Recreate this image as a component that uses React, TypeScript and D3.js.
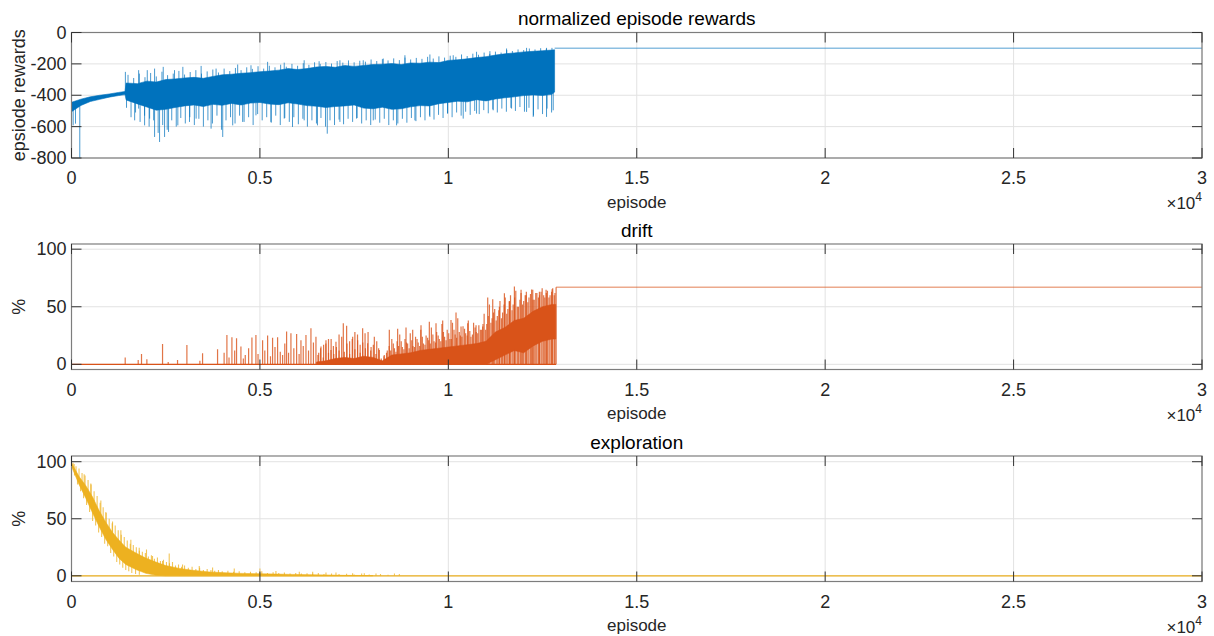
import React, { useEffect, useRef } from 'react';
import * as d3 from 'd3';

// ---- axes / ticks ----
const X_MAX = 30000;
const xTicks = [0, 5000, 10000, 15000, 20000, 25000, 30000];
const xTickLabels = ['0', '0.5', '1', '1.5', '2', '2.5', '3'];

// ---- normalized episode rewards ----
const rewardBandEp = [
  0, 250, 500, 750, 1000, 1250, 1420, 1450, 1750, 2000,
  2250, 2500, 2750, 3000, 3250, 3500, 3750, 4000, 4250, 4500,
  4750, 5000, 5250, 5500, 5750, 6000, 6250, 6500, 6750, 7000,
  7250, 7500, 7750, 8000, 8250, 8500, 8750, 9000, 9250, 9500,
  9750, 10000, 10250, 10500, 10750, 11000, 11250, 11500, 11750, 12000,
  12250, 12500, 12750, 12820,
];
const rewardBandHigh = [
  -445, -425, -410, -400, -392, -382, -376, -322, -326, -310,
  -316, -300, -296, -290, -286, -292, -280, -270, -266, -260,
  -256, -250, -246, -240, -230, -236, -230, -220, -216, -222,
  -210, -216, -210, -204, -202, -198, -204, -194, -196, -189,
  -192, -178, -174, -168, -160, -154, -144, -136, -130, -124,
  -120, -116, -112, -110,
];
const rewardBandLow = [
  -505, -465, -440, -426, -412, -402, -396, -430, -455, -475,
  -495, -490, -478, -468, -462, -472, -458, -464, -452, -462,
  -450, -446, -456, -460, -448, -456, -466, -470, -478, -472,
  -468, -462, -482, -486, -476, -490, -486, -474, -466, -468,
  -454, -446, -438, -442, -428, -436, -424, -416, -410, -402,
  -398, -402, -394, -380,
];
// prominent excursions
const rewardSpikes: [number, number][] = [
  [44, -592], [106, -581], [220, -800], [1676, -560], [1782, -485], [1940, -592],
  [2073, -549], [2205, -666], [2337, -698], [2470, -666], [2575, -634], [2822, -592],
  [3131, -570], [3307, -549], [3704, -613], [4013, -666], [4278, -592], [4542, -570],
  [4895, -528], [5292, -570], [5645, -549], [5865, -602], [6174, -560], [6527, -592],
  [6787, -645], [7123, -570], [7565, -549], [8008, -560], [8627, -592], [9113, -560],
  [9511, -538], [9980, -517], [10395, -549], [10749, -517], [11191, -496], [11678, -485],
  [12076, -506], [12253, -538], [12606, -538], [12783, -496],
  [1430, -251], [1782, -240], [2011, -240], [2205, -230], [2434, -219], [2734, -240],
  [2955, -219], [3440, -213], [3837, -230], [4410, -204], [4763, -209], [5204, -187],
  [5645, -192], [6174, -177], [6571, -183], [7123, -177], [7742, -177], [8273, -166],
  [8848, -145], [9511, -140], [10130, -145], [10749, -123], [11103, -119], [11545, -102],
  [12076, -98], [12606, -98],
];
// jagged top edge
const rewardUpSpikes: [number, number][] = [
  [1500, -270], [1650, -290], [1800, -262], [1950, -285], [2100, -258], [2250, -280],
  [2400, -250], [2550, -272], [2700, -262], [2850, -245], [3000, -268], [3150, -252],
  [3300, -240], [3450, -262], [3600, -248], [3750, -236], [3900, -255], [4050, -230],
  [4200, -246], [4350, -226], [4500, -240], [4650, -222], [4800, -232], [4950, -215],
  [5100, -230], [5250, -212], [5400, -222], [5550, -205], [5700, -218], [5850, -200],
  [6000, -212], [6150, -196], [6300, -206], [6450, -190], [6600, -200], [6750, -188],
  [6900, -198], [7050, -182], [7200, -192], [7350, -178], [7500, -190], [7650, -180],
  [7800, -186], [7950, -172], [8100, -182], [8250, -170], [8400, -178], [8550, -165],
  [8700, -176], [8850, -160], [9000, -172], [9150, -162], [9300, -168], [9450, -155],
  [9600, -166], [9750, -152], [9900, -160], [10050, -148], [10200, -155], [10350, -140],
  [10500, -150], [10650, -135], [10800, -142], [10950, -128], [11100, -136], [11250, -122],
  [11400, -128], [11550, -112], [11700, -118], [11850, -108], [12000, -112], [12150, -102],
  [12300, -108], [12450, -100], [12600, -104], [12750, -98],
];
// streaky lower edge
const rewardDownSpikes: [number, number][] = [
  [1460, -480], [1580, -540], [1700, -510], [1820, -570], [1940, -530], [2060, -600],
  [2180, -560], [2300, -640], [2420, -590], [2540, -620], [2660, -560], [2780, -600],
  [2900, -545], [3020, -580], [3140, -540], [3260, -590], [3380, -550], [3500, -600],
  [3620, -560], [3740, -580], [3860, -530], [3980, -620], [4100, -560], [4220, -540],
  [4340, -580], [4460, -530], [4580, -570], [4700, -540], [4820, -590], [4940, -520],
  [5060, -560], [5180, -540], [5300, -575], [5420, -530], [5540, -590], [5660, -545],
  [5780, -570], [5900, -540], [6020, -585], [6140, -550], [6260, -600], [6380, -560],
  [6500, -580], [6620, -545], [6740, -600], [6860, -560], [6980, -590], [7100, -555],
  [7220, -585], [7340, -550], [7460, -570], [7580, -545], [7700, -580], [7820, -560],
  [7940, -590], [8060, -555], [8180, -575], [8300, -550], [8420, -590], [8540, -560],
  [8660, -580], [8780, -550], [8900, -575], [9020, -545], [9140, -565], [9260, -540],
  [9380, -560], [9500, -530], [9620, -555], [9740, -525], [9860, -545], [9980, -515],
  [10100, -540], [10220, -510], [10340, -530], [10460, -505], [10580, -525], [10700, -500],
  [10820, -520], [10940, -495], [11060, -515], [11180, -490], [11300, -510], [11420, -485],
  [11540, -505], [11660, -480], [11780, -500], [11900, -475], [12020, -505], [12140, -480],
  [12260, -530], [12380, -490], [12500, -520], [12620, -485], [12740, -510],
];
const rewardFlatEp = [12820, 30000];
const rewardFlatValue = -100;

// ---- drift ----
const driftBandEp = [
  6500, 6750, 7000, 7250, 7500, 7750, 8000, 8250, 8500, 8750,
  9000, 9250, 9500, 9750, 10000, 10250, 10500, 10750, 11000, 11250,
  11500, 11750, 12000, 12250, 12500, 12750, 12850,
];
const driftBandHigh = [
  2, 3, 5, 6, 5, 7, 6, 3, 8, 9,
  10, 12, 13, 14, 15, 16, 17, 18, 20, 28,
  32, 38, 40, 46, 50, 52, 52,
];
const driftBandLow = [
  0, 0, 0, 0, 0, 0, 0, 0, 0, 0,
  0, 0, 0, 0, 0, 0, 0, 0, 0, 4,
  8, 12, 10, 16, 20, 22, 22,
];
const driftSpikes: [number, number][] = [
  [1425, 6], [1770, 3.8], [1858, 9], [2000, 4.4], [2416, 17.7], [2566, 2], [2814, 3.8],
  [3062, 16.8], [3407, 3], [3478, 9.6], [3876, 13], [4124, 25.5], [4257, 23.5], [4380, 22.6],
  [4496, 15.4], [4611, 8], [4788, 23.2], [4894, 25.5], [5071, 21], [5204, 25], [5336, 23],
  [5469, 23.5], [5602, 8], [5708, 28.4], [5823, 27], [5974, 26.4], [6089, 21], [6222, 25.5],
  [6354, 31.3], [6487, 24], [6620, 15.4], [6753, 21], [6885, 12.5], [7018, 19.7], [7213, 35.7],
  [7301, 33.4], [7461, 24], [7593, 21], [7726, 31.3], [7859, 18.3], [8036, 24], [8169, 12.5],
  [8434, 30], [8655, 31], [8877, 32], [9054, 30], [9275, 34], [9496, 37], [9673, 35.7],
  [9850, 38], [10071, 38.6], [10204, 45], [10337, 32.8], [10514, 35.7], [10735, 34],
  [10912, 32.8], [11045, 58], [11178, 56.5], [11355, 50], [11488, 61.8], [11620, 54.5],
  [11753, 67.5], [11930, 64.7], [12063, 60], [12240, 64.7], [12417, 63], [12594, 64.7],
  [12753, 65.3], [12860, 67],
  [4050, 10], [4180, 6], [4330, 12], [4560, 5], [4700, 14], [4950, 9], [5130, 12],
  [5280, 7], [5400, 15], [5540, 11], [5660, 18], [5760, 10], [5900, 14], [6040, 9],
  [6150, 16], [6290, 12], [6420, 19], [6560, 10], [6690, 17], [6820, 22], [6950, 16],
  [7100, 26], [7380, 20], [7520, 28], [7660, 17], [7790, 27], [7950, 15], [8100, 20],
  [8300, 8], [8380, 12],
];
const driftDenseSpikes: [number, number][] = [
  [6540, 8], [6610, 14], [6680, 6], [6750, 18], [6820, 10], [6890, 22], [6960, 9],
  [7030, 15], [7100, 12], [7170, 24], [7240, 11], [7310, 18], [7380, 9], [7450, 22],
  [7520, 13], [7590, 26], [7660, 10], [7730, 19], [7800, 14], [7870, 28], [7940, 12],
  [8010, 17], [8080, 9], [8150, 14], [8220, 5], [8290, 7], [8360, 10], [8430, 16],
  [8500, 22], [8570, 14], [8640, 20], [8710, 26], [8780, 15], [8850, 22], [8920, 18],
  [8990, 27], [9060, 16], [9130, 24], [9200, 19], [9270, 30], [9340, 18], [9410, 25],
  [9480, 21], [9550, 32], [9620, 20], [9690, 28], [9760, 22], [9830, 35], [9900, 24],
  [9970, 30], [10040, 22], [10110, 36], [10180, 26], [10250, 40], [10320, 25], [10390, 33],
  [10460, 27], [10530, 38], [10600, 24], [10670, 36], [10740, 28], [10810, 34], [10880, 30],
  [10950, 44], [11020, 35], [11090, 52], [11160, 40], [11230, 48], [11300, 42], [11370, 55],
  [11440, 45], [11510, 58], [11580, 48], [11650, 60], [11720, 52], [11790, 64], [11860, 50],
  [11930, 62], [12000, 55], [12070, 63], [12140, 58], [12210, 65], [12280, 56], [12350, 62],
  [12420, 60], [12490, 66], [12560, 58], [12630, 64], [12700, 60], [12770, 66], [12830, 62],
  [8470, 12], [8540, 18], [8610, 11], [8680, 16], [8750, 20], [8820, 13], [8890, 19],
  [8960, 14], [9030, 21], [9100, 15], [9170, 22], [9240, 16], [9310, 24], [9380, 17],
  [9450, 23], [9520, 18], [9590, 26], [9660, 19], [9730, 25], [9800, 20], [9870, 28],
  [9940, 21], [10010, 27], [10080, 22], [10150, 30], [10220, 23], [10290, 28], [10360, 24],
  [10430, 31], [10500, 25], [10570, 29], [10640, 26], [10710, 32], [10780, 27], [10850, 30],
  [10920, 35], [10990, 30], [11060, 42], [11130, 36], [11200, 45], [11270, 38], [11340, 47],
  [11410, 40], [11480, 52], [11550, 44], [11620, 55], [11690, 47], [11760, 58], [11830, 50],
  [11900, 56], [11970, 52], [12040, 60], [12110, 54], [12180, 61], [12250, 56], [12320, 62],
  [12390, 58], [12460, 63], [12530, 60], [12600, 62], [12670, 58], [12740, 63], [12810, 60],
];
const driftFlatEp = [12860, 30000];
const driftFlatValue = 67;

// ---- exploration ----
const explBandEp = [
  0, 200, 380, 560, 735, 910, 1090, 1270, 1440, 1710,
  1970, 2240, 2500, 2860, 3210, 3650, 4100, 4540, 4980, 5420,
  5870, 6310, 6750, 7200, 8000,
];
const explBandHigh = [
  99, 87, 79, 69, 57, 47, 38, 31, 25, 20,
  15.5, 12, 9, 6.5, 4.8, 3.4, 2.6, 2.1, 1.8, 1.5,
  1.2, 1.0, 0.7, 0.4, 0.2,
];
const explBandLow = [
  96, 80, 68, 55, 43, 32, 23, 15, 10, 5.5,
  2.2, 0.5, 0, 0, 0, 0, 0, 0, 0, 0,
  0, 0, 0, 0, 0,
];
const explSpikes: [number, number][] = [
  [70, 98], [336, 89], [513, 81], [779, 66], [912, 56], [1089, 47.5], [1310, 40],
  [1575, 31.7], [1797, 24.5], [1990, 23], [2150, 17.3], [2416, 13], [2593, 19.6],
  [2947, 10], [3390, 8.6], [3744, 7.2], [4319, 6.3], [5000, 6.3], [5425, 4.3],
  [6045, 3.5], [6400, 3.5], [6753, 2.9], [7018, 2.9], [7460, 2.3], [7770, 2.3],
  [8080, 2], [8570, 2],
  [40, 99], [120, 96], [200, 94], [280, 90], [360, 88], [440, 84], [520, 80], [600, 74],
  [680, 70], [760, 64], [840, 60], [920, 55], [1000, 50], [1080, 46], [1160, 44], [1240, 40],
  [1320, 36], [1400, 34], [1480, 31], [1560, 28], [1640, 27], [1720, 25], [1800, 22],
  [1880, 21], [1960, 20], [2040, 17], [2120, 18], [2200, 15], [2280, 16], [2360, 13],
  [2440, 14], [2520, 12], [2600, 11], [2680, 12], [2760, 9], [2840, 10], [2920, 8],
  [3000, 9], [3100, 7], [3200, 8], [3300, 6], [3400, 7], [3500, 5], [3600, 6], [3700, 5],
  [3800, 4.5], [3900, 5], [4000, 4], [4150, 4.5], [4300, 3.5], [4450, 4], [4600, 3],
  [4750, 3.5], [4900, 3], [5050, 4], [5200, 2.5], [5350, 3], [5500, 2.5], [5650, 2.8],
  [5800, 2], [5950, 2.5], [6100, 2], [6250, 2.2], [6400, 1.8], [6550, 2.5], [6700, 1.5],
  [6900, 2], [7100, 1.5], [7300, 1.8], [7500, 1.2], [7700, 2], [7900, 1.2], [8200, 1.5],
  [8400, 1], [8700, 1.5],
  [80, 88], [160, 80], [240, 74], [320, 68], [400, 62], [480, 56], [560, 48], [640, 44],
  [720, 38], [800, 34], [880, 28], [960, 26], [1040, 20], [1120, 17], [1200, 12],
  [1280, 10], [1360, 7], [1440, 5], [1520, 4], [1600, 2.5], [1700, 1.5], [1800, 1],
];
const explFlatEp = [0, 30000];
const explFlatValue = 0;

// ---- layout ----
const LEFT = 71.5;
const RIGHT = 1202;
const PH = 125.5;
const TOPS = [32.5, 244, 456];
const FONT = 'Liberation Sans, Arial, Helvetica, sans-serif';
const TXT = '#262626';

const panels = [
  {
    key: 'rew', title: 'normalized episode rewards', ylabel: 'epsiode rewards', color: '#0072BD',
    yDomain: [-800, 0], yTicks: [-800, -600, -400, -200, 0],
    bandEp: rewardBandEp, bandHigh: rewardBandHigh, bandLow: rewardBandLow,
    spikes: [...rewardUpSpikes, ...rewardDownSpikes, ...rewardSpikes], spikeFromMid: true,
    spikeWidth: 1, spikeOpacity: 0.72,
    flatEp: rewardFlatEp, flatValue: rewardFlatValue, flatOpacity: 0.45, flatWidth: 1.6,
    baselineTo: null as number | null,
  },
  {
    key: 'drift', title: 'drift', ylabel: '%', color: '#D95319',
    yDomain: [-4.5, 104.5], yTicks: [0, 50, 100],
    bandEp: driftBandEp, bandHigh: driftBandHigh, bandLow: driftBandLow,
    spikes: [...driftDenseSpikes, ...driftSpikes], spikeFromMid: false,
    spikeWidth: 1.2, spikeOpacity: 0.8,
    flatEp: driftFlatEp, flatValue: driftFlatValue, flatOpacity: 0.5, flatWidth: 1.4,
    baselineTo: 12860 as number | null,
  },
  {
    key: 'expl', title: 'exploration', ylabel: '%', color: '#EDB120',
    yDomain: [-5, 105], yTicks: [0, 50, 100],
    bandEp: explBandEp, bandHigh: explBandHigh, bandLow: explBandLow,
    spikes: explSpikes, spikeFromMid: true,
    spikeWidth: 1.1, spikeOpacity: 0.75,
    flatEp: explFlatEp, flatValue: explFlatValue, flatOpacity: 1, flatWidth: 1.2,
    baselineTo: null as number | null,
  },
];

const App = () => {
  const svgRef = useRef<SVGSVGElement>(null);

  useEffect(() => {
    const svg = d3.select(svgRef.current);
    svg.selectAll('*').remove();

    const x = d3.scaleLinear().domain([0, X_MAX]).range([LEFT, RIGHT]);

    panels.forEach((p, pi) => {
      const top = TOPS[pi];
      const bottom = top + PH;
      const y = d3.scaleLinear().domain(p.yDomain).range([bottom, top]);
      const g = svg.append('g');

      // grid
      g.selectAll('.gx').data(xTicks).join('line')
        .attr('x1', d => x(d)).attr('x2', d => x(d))
        .attr('y1', top).attr('y2', bottom)
        .attr('stroke', '#e2e2e2').attr('stroke-width', 1);
      g.selectAll('.gy').data(p.yTicks).join('line')
        .attr('x1', LEFT).attr('x2', RIGHT)
        .attr('y1', d => y(d)).attr('y2', d => y(d))
        .attr('stroke', '#e2e2e2').attr('stroke-width', 1);

      const clipId = `clip-${p.key}`;
      svg.append('clipPath').attr('id', clipId)
        .append('rect').attr('x', LEFT).attr('y', top).attr('width', RIGHT - LEFT).attr('height', PH);
      const dg = g.append('g').attr('clip-path', `url(#${clipId})`);

      // flat tail
      const line = d3.line<number>().x(d => x(d)).y(() => y(p.flatValue));
      dg.append('path').datum(p.flatEp).attr('d', line)
        .attr('fill', 'none').attr('stroke', p.color)
        .attr('stroke-opacity', p.flatOpacity).attr('stroke-width', p.flatWidth);

      if (p.baselineTo !== null) {
        dg.append('line')
          .attr('x1', x(0)).attr('x2', x(p.baselineTo))
          .attr('y1', y(0)).attr('y2', y(0))
          .attr('stroke', p.color).attr('stroke-width', 1.2);
      }

      // spikes
      const mid = d3.scaleLinear()
        .domain(p.bandEp)
        .range(p.bandEp.map((_, i) => (p.bandHigh[i] + p.bandLow[i]) / 2))
        .clamp(true);
      dg.selectAll('.spike').data(p.spikes).join('line')
        .attr('x1', d => x(d[0])).attr('x2', d => x(d[0]))
        .attr('y1', d => y(p.spikeFromMid ? mid(d[0]) : 0))
        .attr('y2', d => y(d[1]))
        .attr('stroke', p.color).attr('stroke-opacity', p.spikeOpacity)
        .attr('stroke-width', p.spikeWidth);

      // dense band
      const band = p.bandEp.map((e, i) => ({ e, lo: p.bandLow[i], hi: p.bandHigh[i] }));
      const area = d3.area<{ e: number; lo: number; hi: number }>()
        .x(d => x(d.e)).y0(d => y(d.lo)).y1(d => y(d.hi));
      dg.append('path').datum(band).attr('d', area)
        .attr('fill', p.color).attr('stroke', p.color).attr('stroke-width', 0.6);

      // box
      g.append('rect')
        .attr('x', LEFT).attr('y', top).attr('width', RIGHT - LEFT).attr('height', PH)
        .attr('fill', 'none').attr('stroke', '#7d7d7d').attr('stroke-width', 1.2);

      // ticks (inside, all four sides)
      const TL = 10;
      xTicks.forEach(t => {
        g.append('line').attr('x1', x(t)).attr('x2', x(t)).attr('y1', bottom).attr('y2', bottom - TL)
          .attr('stroke', '#333').attr('stroke-width', 1);
        g.append('line').attr('x1', x(t)).attr('x2', x(t)).attr('y1', top).attr('y2', top + TL)
          .attr('stroke', '#333').attr('stroke-width', 1);
      });
      p.yTicks.forEach(t => {
        g.append('line').attr('x1', LEFT).attr('x2', LEFT + TL).attr('y1', y(t)).attr('y2', y(t))
          .attr('stroke', '#333').attr('stroke-width', 1);
        g.append('line').attr('x1', RIGHT).attr('x2', RIGHT - TL).attr('y1', y(t)).attr('y2', y(t))
          .attr('stroke', '#333').attr('stroke-width', 1);
      });

      // tick labels
      g.selectAll('.xl').data(xTicks).join('text')
        .attr('x', d => x(d)).attr('y', bottom + 20)
        .attr('text-anchor', 'middle').attr('dominant-baseline', 'central')
        .attr('font-family', FONT).attr('font-size', 18).attr('fill', TXT)
        .text((_, i) => xTickLabels[i]);
      g.selectAll('.yl').data(p.yTicks).join('text')
        .attr('x', LEFT - 5).attr('y', d => y(d))
        .attr('text-anchor', 'end').attr('dominant-baseline', 'central')
        .attr('font-family', FONT).attr('font-size', 18).attr('fill', TXT)
        .text(d => String(d));

      // title, labels
      g.append('text')
        .attr('x', (LEFT + RIGHT) / 2).attr('y', top - 14)
        .attr('text-anchor', 'middle').attr('dominant-baseline', 'central')
        .attr('font-family', FONT).attr('font-size', 19).attr('fill', '#000')
        .text(p.title);
      g.append('text')
        .attr('x', (LEFT + RIGHT) / 2).attr('y', bottom + 44)
        .attr('text-anchor', 'middle').attr('dominant-baseline', 'central')
        .attr('font-family', FONT).attr('font-size', 17).attr('fill', TXT)
        .text('episode');
      g.append('text')
        .attr('transform', `translate(19,${(top + bottom) / 2}) rotate(-90)`)
        .attr('text-anchor', 'middle').attr('dominant-baseline', 'central')
        .attr('font-family', FONT).attr('font-size', 18).attr('fill', TXT)
        .text(p.ylabel);

      // exponent
      const ex = g.append('text')
        .attr('x', RIGHT).attr('y', bottom + 51)
        .attr('text-anchor', 'end')
        .attr('font-family', FONT).attr('font-size', 17).attr('fill', TXT);
      ex.append('tspan').text('×10');
      ex.append('tspan').attr('font-size', 12).attr('dy', -8).text('4');
    });
  }, []);

  return (
    <svg ref={svgRef} width={1214} height={636}
      style={{ position: 'absolute', left: 0, top: 0, background: '#fff' }} />
  );
};

export default App;
